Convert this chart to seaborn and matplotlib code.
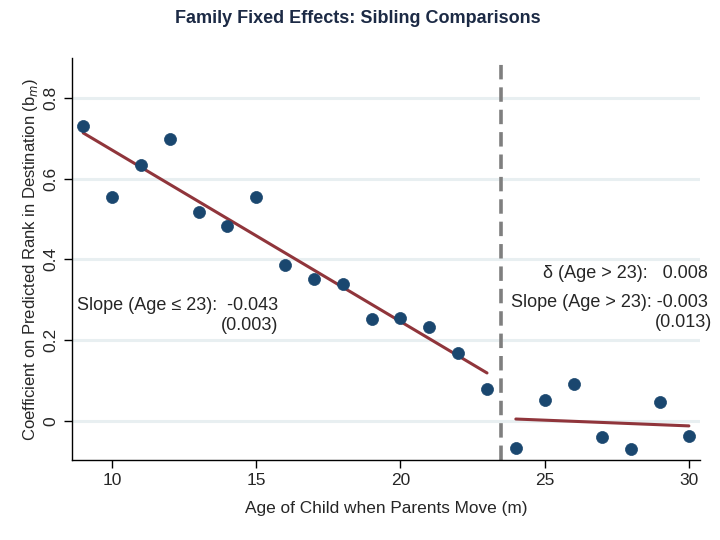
import numpy as np
import pandas as pd
import matplotlib
matplotlib.use("Agg")
import matplotlib.pyplot as plt
import seaborn as sns

# ---------------------------------------------------------------------------
# Data
# ---------------------------------------------------------------------------

ages = [9, 10, 11, 12, 13, 14, 15, 16, 17, 18, 19, 20, 21, 22, 23,
        24, 25, 26, 27, 28, 29, 30]
coefs = [0.731, 0.555, 0.634, 0.698, 0.518, 0.483, 0.555, 0.386, 0.352,
         0.339, 0.253, 0.255, 0.233, 0.168, 0.079,
         -0.067, 0.052, 0.092, -0.040, -0.069, 0.047, -0.037]

# fitted lines: (age start, age end) and value at the ends
fit_pre_ages = [9, 23]
fit_pre_vals = [0.713, 0.119]
fit_post_ages = [24, 30]
fit_post_vals = [0.005, -0.012]

x_ticks = [10, 15, 20, 25, 30]
y_ticks = [0, 0.2, 0.4, 0.6, 0.8]
y_tick_labels = ["0", "0.2", "0.4", "0.6", "0.8"]
cutoff = 23.5

# ---------------------------------------------------------------------------
# Plot
# ---------------------------------------------------------------------------

sns.set_style("white")
plt.rcParams["font.family"] = ["Liberation Sans", "DejaVu Sans"]

dot_color = "#1a476f"
line_color = "#90353b"

df = pd.DataFrame({"age": ages, "coef": coefs})
fits = pd.DataFrame({
    "age": fit_pre_ages + fit_post_ages,
    "val": fit_pre_vals + fit_post_vals,
    "seg": ["pre"] * 2 + ["post"] * 2,
})

fig = plt.figure(figsize=(7.2, 5.4), dpi=100)
ax = fig.add_axes([0.1, 0.148, 0.872, 0.745])

ax.yaxis.grid(True, color="#e8eff1", linewidth=2.2)
ax.set_axisbelow(True)

sns.lineplot(data=fits, x="age", y="val", units="seg", estimator=None,
             color=line_color, linewidth=2.2, ax=ax, zorder=2)
sns.scatterplot(data=df, x="age", y="coef", color=dot_color, s=75,
                edgecolor=dot_color, linewidth=0.5, ax=ax, zorder=3)
ax.axvline(cutoff, color="#7f7f7f", linestyle=(0, (4, 2.2)), linewidth=2.6,
           zorder=1)

ax.set_xlim(8.61, 30.38)
ax.set_ylim(-0.0966, 0.899)
ax.set_xticks(x_ticks)
ax.set_yticks(y_ticks)
ax.set_yticklabels(y_tick_labels, rotation=90, va="center")
ax.tick_params(axis="both", direction="out", length=6, width=1,
               labelsize=12.5, color="black", left=True, bottom=True)

sns.despine(ax=ax)
for side in ["left", "bottom"]:
    ax.spines[side].set_color("black")
    ax.spines[side].set_linewidth(1)

ax.set_xlabel("Age of Child when Parents Move (m)", fontsize=12.4, labelpad=9)
ax.set_ylabel(r"Coefficient on Predicted Rank in Destination (b$_m$)",
              fontsize=12, labelpad=3)
fig.suptitle("Family Fixed Effects: Sibling Comparisons", x=0.497, y=0.982,
             fontsize=13, fontweight="bold", color="#1c2a45")

txt = 13
ax.text(8.78, 0.285, u"Slope (Age \u2264 23):  -0.043", fontsize=txt,
        va="center", ha="left")
ax.text(15.75, 0.237, "(0.003)", fontsize=txt, va="center", ha="right")

ax.text(30.65, 0.364, u"\u03b4 (Age > 23):   0.008", fontsize=txt,
        va="center", ha="right")
ax.text(30.65, 0.294, "Slope (Age > 23): -0.003", fontsize=txt,
        va="center", ha="right")
ax.text(30.8, 0.244, "(0.013)", fontsize=txt, va="center", ha="right")

fig.savefig("out.png", dpi=100)
